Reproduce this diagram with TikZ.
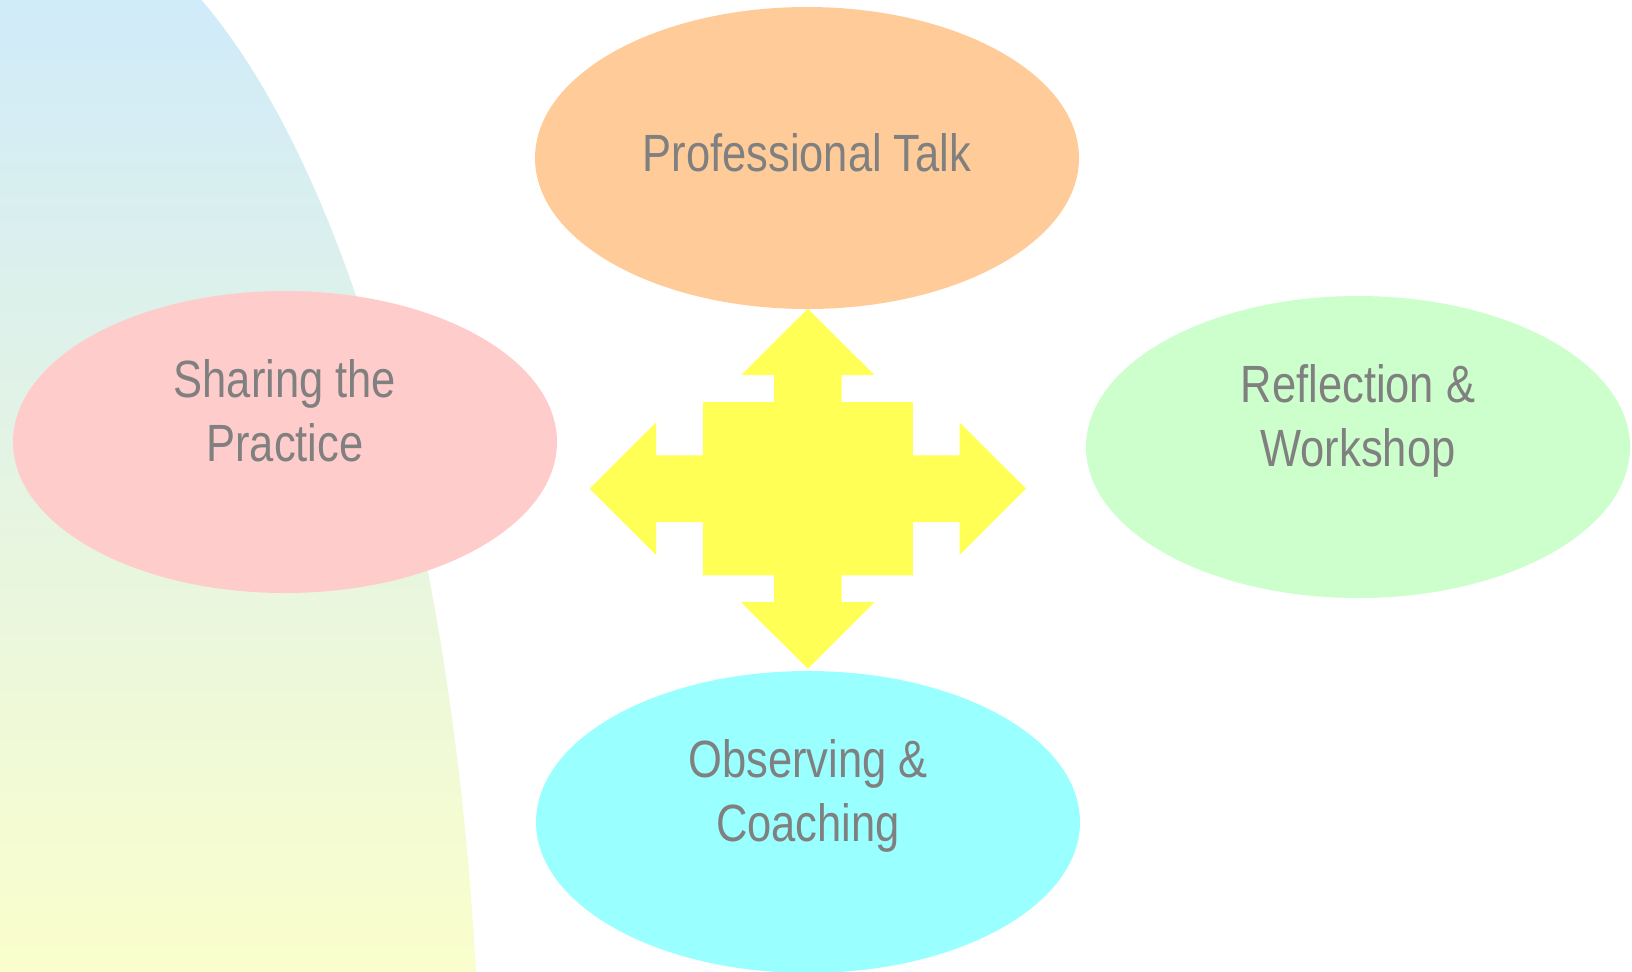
\documentclass[tikz,border=0pt]{standalone}
\usepackage{fontspec}
\setmainfont{Liberation Sans}[FakeStretch=0.83]
\usetikzlibrary{shapes.geometric}

\definecolor{bgtop}{RGB}{208,235,249}
\definecolor{bgbot}{RGB}{250,254,204}
\definecolor{talkfill}{RGB}{255,204,153}
\definecolor{sharefill}{RGB}{255,204,204}
\definecolor{reflfill}{RGB}{204,255,204}
\definecolor{obsfill}{RGB}{153,255,255}
\definecolor{hubfill}{RGB}{255,255,85}
\definecolor{txtgray}{RGB}{128,128,128}

\begin{document}
\begin{tikzpicture}[x=0.5pt, y=-0.5pt,
  bubble/.style={ellipse, minimum width=272pt, minimum height=151pt, inner sep=0pt},
  lbl/.style={text=txtgray, align=center, inner sep=0pt, anchor=base, font=\fontsize{26.2pt}{32pt}\selectfont}]
\useasboundingbox (0,0) rectangle (1632,971);
\begin{scope}
  \clip (22,1160) ellipse [x radius=229.5pt, y radius=630pt];
  \shade[top color=bgtop, bottom color=bgbot] (0,0) rectangle (500,971);
\end{scope}
\node[bubble, fill=talkfill] (talk) at (807,158) {};
\node[bubble, fill=sharefill] (share) at (285,442) {};
\node[bubble, fill=reflfill] (refl) at (1358,447) {};
\node[bubble, fill=obsfill] (obs) at (808,822) {};
\coordinate (hub) at (807.8,488.7);
\fill[hubfill, shift={(hub)}] (0,-180) -- (66.7,-113.5) -- (33.7,-113.5) -- (33.7,-86.7) -- (105,-86.7)
  -- (105,-33.3) -- (151.7,-33.3) -- (151.7,-66.3) -- (218.2,0) -- (151.7,66.3) -- (151.7,33.3)
  -- (105,33.3) -- (105,86.7) -- (33.7,86.7) -- (33.7,113.5) -- (66.7,113.5) -- (0,180)
  -- (-66.7,113.5) -- (-33.7,113.5) -- (-33.7,86.7) -- (-105,86.7) -- (-105,33.3) -- (-151.7,33.3)
  -- (-151.7,66.3) -- (-218.2,0) -- (-151.7,-66.3) -- (-151.7,-33.3) -- (-105,-33.3) -- (-105,-86.7)
  -- (-33.7,-86.7) -- (-33.7,-113.5) -- (-66.7,-113.5) -- cycle;
\node[lbl] (talk-txt) at ([yshift=-6.5pt]talk.center) {Professional Talk};
\node[lbl] (share-txt) at ([yshift=-9.5pt]share.center) {Sharing the\\Practice};
\node[lbl] (refl-txt) at ([yshift=-9.5pt]refl.center) {Reflection \&\\Workshop};
\node[lbl] (obs-txt) at ([yshift=-9.5pt]obs.center) {Observing \&\\Coaching};
\end{tikzpicture}
\end{document}
